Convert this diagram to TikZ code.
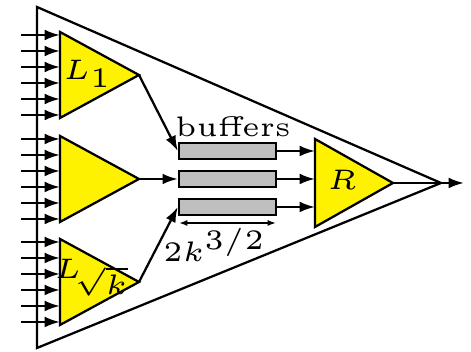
\documentclass[tikz,border=0pt]{standalone}
\usetikzlibrary{arrows.meta}
\begin{document}
\begin{tikzpicture}[x=0.177pt,y=-0.177pt,line width=0.4pt,
  amp/.style={draw,fill=yellow,line join=miter},
  buf/.style={draw,fill=black!25,inner sep=0pt,minimum width=17.2pt,minimum height=2.85pt},
  inarrow/.style={-{Latex[length=2.7pt,width=1.9pt]}},
  lbl/.style={inner sep=0pt},
  dim/.style={{Latex[length=1.5pt,width=1.1pt]}-{Latex[length=1.5pt,width=1.1pt]},line width=0.3pt}]
\fontsize{5}{6}\selectfont
\useasboundingbox (0,0) rectangle (471,352);
% outer triangle
\coordinate (OA) at (441,183);
\coordinate (OT) at (37,7);
\coordinate (OB) at (37,348);
\draw[line join=miter] (OT) -- (OA) -- (OB) -- cycle;
\coordinate (out) at (464,183);
\draw[inarrow] (OA) -- (out);
% small amplifiers
\foreach \n/\c in {a/75,b/179,c/282}{
  \coordinate (\n top) at (60,\c-43);
  \coordinate (\n bot) at (60,\c+43);
  \coordinate (\n apex) at (139,\c);
  \draw[amp] (\n top) -- (\n apex) -- (\n bot) -- cycle;
  \foreach \k in {-40,-24,-8,8,24,40}{
    \coordinate (\n in\k) at (21,\c+\k);
    \coordinate (\n end\k) at (60,\c+\k);
    \draw[inarrow] (\n in\k) -- (\n end\k);
  }
}
\node[lbl] (l1) at (88,74) {$L_1$};
\node[lbl] (lk) at (91,278) {$L$\kern-1.2pt\raisebox{-2.8pt}{$\sqrt{k}$}};
% buffers
\node[buf] (b1) at (227.5,151) {};
\node[buf] (b2) at (227.5,179) {};
\node[buf] (b3) at (227.5,207) {};
\node[lbl] (buftxt) at (233,127) {buffers};
\draw[inarrow] (aapex) -- (b1.west);
\draw[inarrow] (bapex) -- (b2.west);
\draw[inarrow] (capex) -- (b3.west);
% dimension
\coordinate (d1) at (179,223);
\coordinate (d2) at (276,223);
\draw[dim] (d1) -- (d2);
\node[lbl] (dimtxt) at (215,245) {$2k^{3/2}$};
% R amplifier
\coordinate (rtop) at (315,139);
\coordinate (rbot) at (315,227);
\coordinate (rapex) at (393,183);
\draw[amp] (rtop) -- (rapex) -- (rbot) -- cycle;
\node[lbl] (rl) at (342,180) {$R$};
\coordinate (r1) at (315,151);
\coordinate (r2) at (315,179);
\coordinate (r3) at (315,207);
\draw[inarrow] (b1.east) -- (r1);
\draw[inarrow] (b2.east) -- (r2);
\draw[inarrow] (b3.east) -- (r3);
\draw (rapex) -- (OA);
\end{tikzpicture}
\end{document}
